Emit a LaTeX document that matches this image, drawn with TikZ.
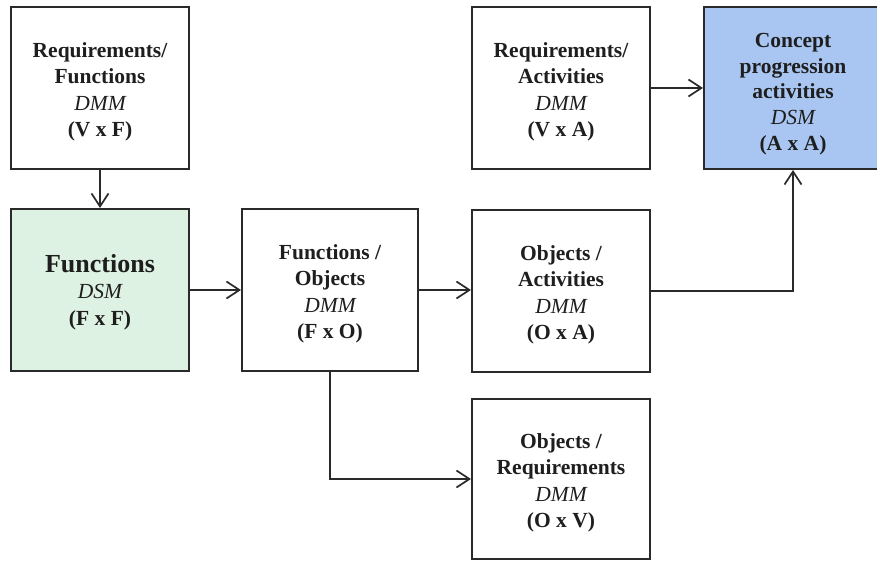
\documentclass[tikz,border=0pt]{standalone}
\usepackage{fontspec}
\setmainfont{Liberation Serif}
\usetikzlibrary{arrows.meta}
\definecolor{dsmgreen}{HTML}{DDF2E2}
\definecolor{dsmblue}{HTML}{A9C6F2}
\definecolor{ink}{HTML}{1E1E1E}
\definecolor{edge}{HTML}{2A2A2A}
\begin{document}
\begin{tikzpicture}[x=1pt,y=-1pt,
  matbox/.style={draw=edge, line width=2pt, fill=white,
    inner sep=0pt, minimum width=178pt, minimum height=162pt},
  boxtext/.style={text=ink, align=center, inner sep=0pt, yshift=-4pt,
    font=\fontsize{21.5}{26.5}\selectfont\bfseries},
  flow/.style={draw=edge, line width=2pt,
    -{Straight Barb[length=13pt,width=17pt,line width=1.7pt]}}]
\useasboundingbox (0,0) rectangle (877,561);
\newcommand{\mtype}[1]{{\mdseries\itshape #1}}

% matrix boxes; their captions sit in centred labels
\node[matbox, label={[boxtext]center:{Requirements/\\Functions\\\mtype{DMM}\\(V x F)}}]
  (vf) at (100,88) {};
\node[matbox, fill=dsmgreen,
  label={[boxtext, yshift=2pt]center:{{\fontsize{26}{28}\selectfont Functions}\\\mtype{DSM}\\(F x F)}}]
  (ff) at (100,290) {};
\node[matbox, minimum width=176pt,
  label={[boxtext]center:{Functions /\\Objects\\\mtype{DMM}\\(F x O)}}]
  (fo) at (330,290) {};
\node[matbox,
  label={[boxtext]center:{Requirements/\\Activities\\\mtype{DMM}\\(V x A)}}]
  (va) at (561,88) {};
\node[matbox, fill=dsmblue,
  label={[boxtext, yshift=-2pt, font=\fontsize{21.5}{25.6}\selectfont\bfseries]center:{Concept\\progression\\activities\\\mtype{DSM}\\(A x A)}}]
  (aa) at (793,88) {};
\node[matbox,
  label={[boxtext]center:{Objects /\\Activities\\\mtype{DMM}\\(O x A)}}]
  (oa) at (561,291) {};
\node[matbox, minimum height=160pt,
  label={[boxtext]center:{Objects /\\Requirements\\\mtype{DMM}\\(O x V)}}]
  (ov) at (561,479) {};

% dependencies between the matrices
\draw[flow] (vf.south) -- (ff.north);
\draw[flow] (ff.east) -- (fo.west);
\draw[flow] (fo.east) -- (fo.east -| oa.west);
\draw[flow] (va.east) -- (aa.west);
\draw[flow] (oa.east) -| (aa.south);
\draw[flow] (fo.south) |- (ov.west);
\end{tikzpicture}
\end{document}
